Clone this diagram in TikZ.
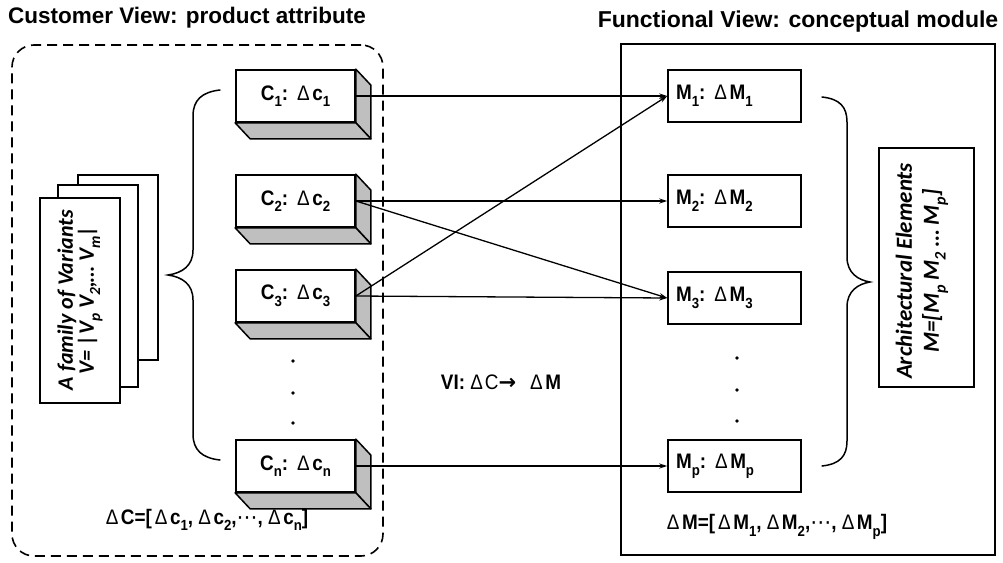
\documentclass[tikz,border=0pt]{standalone}
\usepackage{fontspec}
\setmainfont{Liberation Sans}
\newfontfamily\narrowfont[FakeStretch=0.9]{Liberation Sans}
\newfontfamily\slantfont{Carlito}
\newfontfamily\symfont{DejaVu Sans}
\usetikzlibrary{arrows.meta}

% lowered, smaller subscript in the current font
\newcommand\lowsub[1]{\raisebox{-0.6ex}{\scalebox{0.7}{#1}}}
% light delta inside bold labels
\newcommand\dlt{{\mdseries Δ}\hspace{2.5pt}}
% gap after the colon of a box label
\newcommand\gap{\hspace{9pt}}

% 3D sides of an attribute box: right face and bottom face
\newcommand\boxfaces[1]{%
  \filldraw[face] (#1.north east) -- ++(15,16) -- ([shift={(15,16)}]#1.south east) -- (#1.south east) -- cycle;
  \filldraw[face] (#1.south west) -- ++(15,16) -- ([shift={(15,16)}]#1.south east) -- (#1.south east) -- cycle;}

\tikzset{
  title/.style={font=\bfseries\fontsize{22.5}{24}\selectfont, inner sep=0pt},
  label/.style={font=\narrowfont\bfseries\fontsize{21}{24}\selectfont, inner sep=0pt},
  attr/.style={draw, line width=1.7pt, fill=white, minimum width=119pt, minimum height=52pt,
    inner sep=0pt, font=\narrowfont\bfseries\fontsize{21}{24}\selectfont},
  modbox/.style={draw, line width=1.5pt, fill=white, minimum width=133pt, minimum height=52pt,
    inner xsep=8pt, inner ysep=0pt, text width=117pt, align=left,
    font=\narrowfont\bfseries\fontsize{21}{24}\selectfont},
  face/.style={line width=1.5pt, fill=gray!50, line join=round},
  link/.style={line width=1.3pt, -{Stealth[length=8pt,width=5pt]}},
  brace/.style={line width=1.5pt, line cap=round},
  page/.style={draw, line width=1.5pt, fill=white, inner sep=0pt},
  dot/.style={circle, fill, inner sep=0pt, minimum size=3.8pt},
  frame/.style={line width=1.6pt, inner sep=0pt},
  vtext/.style={rotate=90, align=center, inner sep=0pt,
    font=\slantfont\bfseries\itshape\fontsize{22}{21}\selectfont},
}

\begin{document}
\begin{tikzpicture}[x=1pt, y=-1pt]
\useasboundingbox (0,0) rectangle (1003,562);

% titles
\node[title] (ctitle) at (187,18) {Customer View: product attribute};
\node[title, font=\bfseries\fontsize{23}{24}\selectfont] (ftitle) at (798,22) {Functional View: conceptual module};

% view frames
\node[frame, draw, dashed, dash pattern=on 10pt off 6pt, rounded corners=22pt,
      minimum width=371pt, minimum height=511pt] (cview) at (197.5,300.5) {};
\node[frame, draw, minimum width=374pt, minimum height=511pt] (fview) at (808,299.5) {};

% stacked variant sheets
\node[page, minimum width=80pt, minimum height=185pt] (sheet3) at (118,267.5) {};
\node[page, minimum width=80pt, minimum height=202pt] (sheet2) at (98,286) {};
\node[page, minimum width=80pt, minimum height=205pt] (sheet1) at (80,300.5) {};
\node[vtext] (variants) at (80,300)
  {A family of Variants\\ V= |V\lowsub{p} V\lowsub{2},… V\lowsub{m}|};

% left brace
\draw[brace] (220,90) .. controls (202,92) and (193,100) .. (193,116) -- (193,250)
  .. controls (193,266) and (182,273) .. (168,275)
  .. controls (182,277) and (193,284) .. (193,300) -- (193,434)
  .. controls (193,450) and (202,458) .. (220,460);

% product attribute boxes
\node[attr] (C1) at (295.5,96)  {C\lowsub{1}:\gap\dlt c\lowsub{1}};
\node[attr] (C2) at (295.5,201) {C\lowsub{2}:\gap\dlt c\lowsub{2}};
\node[attr] (C3) at (295.5,296) {C\lowsub{3}:\gap\dlt c\lowsub{3}};
\node[attr] (Cn) at (295.5,466) {C\lowsub{n}:\gap\dlt c\lowsub{n}};
\boxfaces{C1}
\boxfaces{C2}
\boxfaces{C3}
\boxfaces{Cn}

\node[dot] (cd1) at (293,361) {};
\node[dot] (cd2) at (293,393) {};
\node[dot] (cd3) at (293,423) {};

\node[label] (dc) at (207,520)
  {\dlt C=[\hspace{3pt}\dlt c\lowsub{1}, \dlt c\lowsub{2},{\symfont\mdseries ⋯}, \dlt c\lowsub{n}]};

% conceptual module boxes
\node[modbox] (M1) at (734.5,96)  {M\lowsub{1}:\gap\dlt M\lowsub{1}};
\node[modbox] (M2) at (734.5,201) {M\lowsub{2}:\gap\dlt M\lowsub{2}};
\node[modbox] (M3) at (734.5,298) {M\lowsub{3}:\gap\dlt M\lowsub{3}};
\node[modbox] (Mp) at (734.5,466) {M\lowsub{p}:\gap\dlt M\lowsub{p}};

\node[dot] (md1) at (737,358) {};
\node[dot] (md2) at (737,390) {};
\node[dot] (md3) at (737,421) {};

\node[label] (dm) at (777,527)
  {\dlt M=[\hspace{3pt}\dlt M\lowsub{1}, \dlt M\lowsub{2},{\symfont\mdseries ⋯}, \dlt M\lowsub{p}]};

% right brace
\draw[brace] (822,97) .. controls (840,99) and (847,107) .. (847,122) -- (847,257)
  .. controls (847,273) and (858,280) .. (870,282)
  .. controls (858,284) and (847,291) .. (847,307) -- (847,441)
  .. controls (847,456) and (840,464) .. (822,466);

% architectural elements
\node[page, minimum width=95pt, minimum height=239pt] (arch) at (926.5,267.5) {};
\node[vtext, font=\slantfont\bfseries\itshape\fontsize{23}{27}\selectfont] (archtext) at (922,271)
  {Architectural Elements\\ M=[M\lowsub{p} M\lowsub{2} … M\lowsub{p}]};

% mapping between attributes and modules
\draw[link] (C1.east) -- (M1.west);
\draw[link] (C2.east) -- (M2.west);
\draw[link] (C2.east) -- (M3.west);
\draw[link] (C3.east) -- (M1.west);
\draw[link] (C3.east) -- (M3.west);
\draw[link] (Cn.east) -- (Mp.west);

\node[label] (vi) at (501,382)
  {VI: {\mdseries Δ\hspace{2pt}C}{\symfont\bfseries →}\hspace{14pt}\dlt M};
\end{tikzpicture}
\end{document}
